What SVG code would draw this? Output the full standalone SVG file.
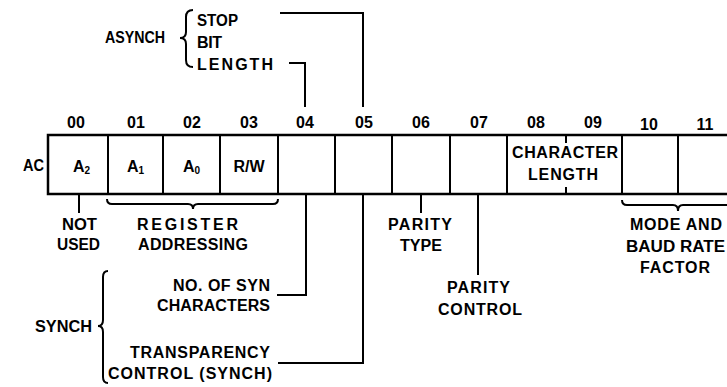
<svg xmlns="http://www.w3.org/2000/svg" width="727" height="387" viewBox="0 0 727 387">
<style>
text{font-family:"Liberation Sans",Arial,sans-serif;font-weight:bold;font-size:16px;fill:#000}
.c{text-anchor:middle}
.ln{fill:none;stroke:#000;stroke-width:2}
.reg{fill:none;stroke:#000;stroke-width:2.5}
.sub{font-size:10px}
</style>
<rect width="727" height="387" fill="#fff"/>
<g id="register">
<path class="reg" d="M727,135 H48 V194 H727"/>
<path class="ln" d="M108,135 V194 M163,135 V194 M220,135 V194 M278,135 V194 M335,135 V194 M392,135 V194 M450,135 V194 M507,135 V194 M566,135 V143 M566,187 V194 M622,135 V194 M678,135 V194"/>
<text x="23" y="171" textLength="21" lengthAdjust="spacingAndGlyphs">AC</text>
<text class="c" x="76" y="128">00</text>
<text class="c" x="136" y="128">01</text>
<text class="c" x="192" y="128">02</text>
<text class="c" x="249" y="128">03</text>
<text class="c" x="305" y="128">04</text>
<text class="c" x="364" y="128">05</text>
<text class="c" x="421" y="128">06</text>
<text class="c" x="479" y="128">07</text>
<text class="c" x="536" y="128">08</text>
<text class="c" x="593" y="128">09</text>
<text class="c" x="649" y="130">10</text>
<text class="c" x="705" y="130">11</text>
<text x="73" y="172">A<tspan class="sub" dy="2">2</tspan></text>
<text x="127" y="172">A<tspan class="sub" dy="2">1</tspan></text>
<text x="183" y="172">A<tspan class="sub" dy="2">0</tspan></text>
<text class="c" x="249" y="172">R/W</text>
<text x="512" y="158" textLength="106" lengthAdjust="spacing">CHARACTER</text>
<text x="528" y="180" textLength="70" lengthAdjust="spacing">LENGTH</text>
</g>
<g id="connectors">
<path class="ln" d="M280,13 H363 V107"/>
<path class="ln" d="M289,63 H305 V107"/>
<path class="ln" d="M306,194 V295 H277"/>
<path class="ln" d="M363,194 V363 H278"/>
<path class="ln" d="M79,194 V213"/>
<path class="ln" d="M421,194 V213"/>
<path class="ln" d="M478,194 V275"/>
</g>
<g id="asynch">
<path class="ln" d="M193,10 Q186,10 186,17 L186,32 Q186,38 180,38 Q186,38 186,44 L186,60 Q186,67 193,67"/>
<text x="105" y="43" textLength="60" lengthAdjust="spacingAndGlyphs">ASYNCH</text>
<text x="197" y="26" textLength="41" lengthAdjust="spacingAndGlyphs">STOP</text>
<text x="197" y="48" textLength="25" lengthAdjust="spacing">BIT</text>
<text x="197" y="70" textLength="76" lengthAdjust="spacing">LENGTH</text>
</g>
<g id="not-used">
<text x="62" y="230" textLength="35" lengthAdjust="spacingAndGlyphs">NOT</text>
<text x="57" y="250" textLength="43" lengthAdjust="spacingAndGlyphs">USED</text>
</g>
<g id="register-addressing">
<path class="ln" d="M107,199 Q107,204 112,204 L188,204 Q193,204 193,209 Q193,204 198,204 L273,204 Q278,204 278,199"/>
<text x="137" y="230" textLength="101" lengthAdjust="spacing">REGISTER</text>
<text x="138" y="250" textLength="110" lengthAdjust="spacing">ADDRESSING</text>
</g>
<g id="synch">
<path class="ln" d="M108,271 Q103,271 103,277 L103,320 Q103,326 98,326 Q103,326 103,332 L103,377 Q103,383 108,383"/>
<text x="35" y="332" textLength="57" lengthAdjust="spacingAndGlyphs">SYNCH</text>
<text x="173" y="291" textLength="97" lengthAdjust="spacing">NO. OF SYN</text>
<text x="157" y="311" textLength="113" lengthAdjust="spacing">CHARACTERS</text>
<text x="130" y="358" textLength="140" lengthAdjust="spacing">TRANSPARENCY</text>
<text x="108" y="379" textLength="164" lengthAdjust="spacing">CONTROL (SYNCH)</text>
</g>
<g id="parity-type">
<text x="388" y="230" textLength="64" lengthAdjust="spacing">PARITY</text>
<text x="400" y="251" textLength="42" lengthAdjust="spacingAndGlyphs">TYPE</text>
</g>
<g id="parity-control">
<text x="447" y="293" textLength="63" lengthAdjust="spacing">PARITY</text>
<text x="438" y="315" textLength="84" lengthAdjust="spacing">CONTROL</text>
</g>
<g id="mode-baud">
<path class="ln" d="M622,200 Q622,205 627,205 L673,205 Q678,205 678,211 Q678,205 683,205 L727,205"/>
<text x="630" y="230" textLength="92" lengthAdjust="spacing">MODE AND</text>
<text x="626" y="252" textLength="99" lengthAdjust="spacingAndGlyphs">BAUD RATE</text>
<text x="640" y="273" textLength="70" lengthAdjust="spacing">FACTOR</text>
</g>
</svg>
